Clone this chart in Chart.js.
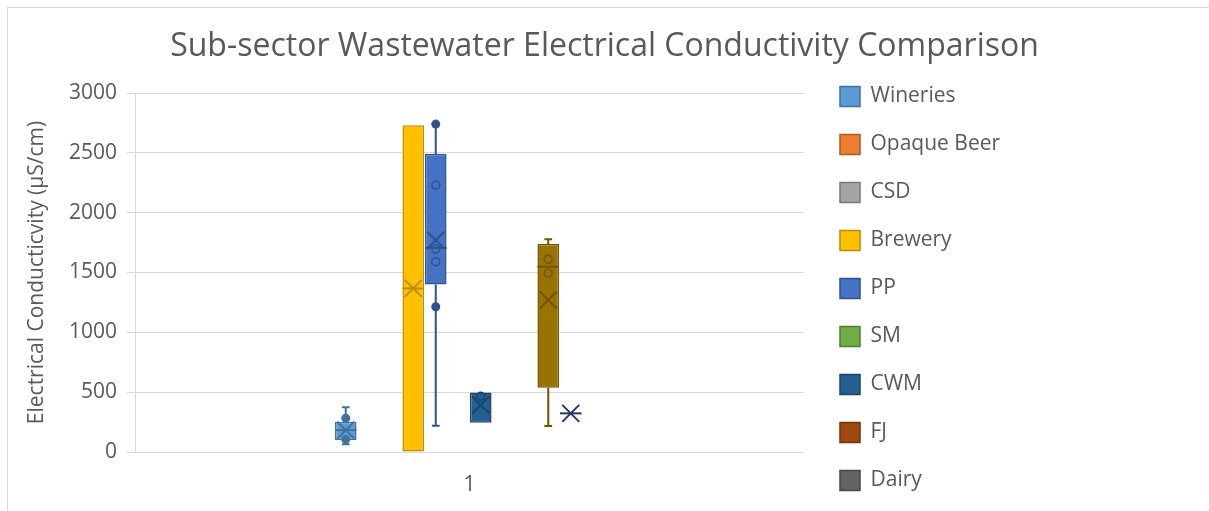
<!DOCTYPE html>
<html>
<head>
<meta charset="utf-8">
<script src="https://cdn.jsdelivr.net/npm/chart.js@4.4.1/dist/chart.umd.min.js"></script>
<style>
html,body{margin:0;padding:0;background:#fff;overflow:hidden;width:1209px;height:511px}
canvas{display:block}
</style>
</head>
<body>
<canvas id="c" width="1209" height="511"></canvas>
<script>
// ---- data ----
const categories = ['1'];
const seriesNames = ['Wineries','Opaque Beer','CSD','Brewery','PP','SM','CWM','FJ','Dairy','Series 10','Series 11','Series 12'];
const legendCount = 9;
const fillColors = ['#5B9BD5','#ED7D31','#A5A5A5','#FFC000','#4472C4','#70AD47','#255E91','#9E480E','#636363','#997300','#264478','#43682B'];
const lineColors = ['#41719C','#AE5A21','#787878','#BC8C00','#2F528F','#507E32','#1A4469','#73330A','#474747','#705400','#203864','#30501F'];
const q1Values  = [100, null, null, 0,    1400, null, 245, null, null, 537,  323, null];
const q3Values  = [250, null, null, 2730, 2490, null, 498, null, null, 1738, 323, null];
const medianValues = [183, null, null, 1367, 1705, null, null, null, null, 1548, 323, null];
const meanValues   = [183, null, null, 1367, 1770, null, 393, null, null, 1270, 323, null];
const whiskerMinValues = [65, null, null, null, 220, null, null, null, null, 217, null, null];
const whiskerMaxValues = [375, null, null, null, 2740, null, null, null, null, 1777, null, null];
const innerPoints   = [[], [], [], [], [2230, 1696, 1590], [], [465], [], [], [1610, 1493], [], []];
const outlierPoints = [[283, 105], [], [], [], [2740, 1214], [], [], [], [], [], [], []];
const yMin = 0, yMax = 3000, yStep = 500;

const TXT = '#595959';
const GRID = '#d9d9d9';
const FAM = "'Open Sans'";
Chart.defaults.font.family = FAM;

const bgPlugin = {
  id: 'bg',
  beforeDraw(chart) {
    const ctx = chart.ctx;
    ctx.save();
    ctx.fillStyle = '#fff';
    ctx.fillRect(0, 0, chart.width, chart.height);
    ctx.strokeStyle = GRID;
    ctx.lineWidth = 1;
    ctx.strokeRect(7.5, 7.5, chart.width + 20, chart.height + 20);
    ctx.restore();
  }
};

const boxDetails = {
  id: 'boxDetails',
  afterDatasetsDraw(chart) {
    const ctx = chart.ctx;
    const ys = chart.scales.y;
    chart.data.datasets.forEach((ds, i) => {
      const bar = chart.getDatasetMeta(i).data[0];
      if (!bar || q1Values[i] == null) return;
      const x = bar.x, w = bar.width, col = lineColors[i];
      const py = v => ys.getPixelForValue(v);
      ctx.save();
      ctx.strokeStyle = col;
      ctx.fillStyle = col;
      ctx.lineWidth = 2;
      const cap = w * 0.18;
      if (whiskerMaxValues[i] != null) {
        ctx.beginPath();
        ctx.moveTo(x, py(q3Values[i])); ctx.lineTo(x, py(whiskerMaxValues[i]));
        ctx.moveTo(x - cap, py(whiskerMaxValues[i])); ctx.lineTo(x + cap, py(whiskerMaxValues[i]));
        ctx.stroke();
      }
      if (whiskerMinValues[i] != null) {
        ctx.beginPath();
        ctx.moveTo(x, py(q1Values[i])); ctx.lineTo(x, py(whiskerMinValues[i]));
        ctx.moveTo(x - cap, py(whiskerMinValues[i])); ctx.lineTo(x + cap, py(whiskerMinValues[i]));
        ctx.stroke();
      }
      if (medianValues[i] != null) {
        ctx.beginPath();
        ctx.moveTo(x - w / 2, py(medianValues[i])); ctx.lineTo(x + w / 2, py(medianValues[i]));
        ctx.stroke();
      }
      if (meanValues[i] != null) {
        const m = py(meanValues[i]), h = 8.5;
        ctx.beginPath();
        ctx.moveTo(x - h, m - h); ctx.lineTo(x + h, m + h);
        ctx.moveTo(x - h, m + h); ctx.lineTo(x + h, m - h);
        ctx.stroke();
      }
      ctx.lineWidth = 1.5;
      innerPoints[i].forEach(v => {
        ctx.beginPath();
        ctx.arc(x, py(v), 4, 0, Math.PI * 2);
        ctx.stroke();
      });
      outlierPoints[i].forEach(v => {
        ctx.beginPath();
        ctx.arc(x, py(v), 4.5, 0, Math.PI * 2);
        ctx.fill();
      });
      ctx.restore();
    });
  }
};

const hiddenScale = (pos, weight, fitFn) => ({
  type: pos === 'top' ? 'category' : 'linear',
  position: pos,
  weight: weight,
  display: true,
  grid: { display: false },
  border: { display: false },
  ticks: { display: false },
  afterFit: fitFn
});

new Chart(document.getElementById('c'), {
  type: 'bar',
  data: {
    labels: categories,
    datasets: seriesNames.map((name, i) => ({
      label: name,
      data: [q1Values[i] == null ? null : [q1Values[i], q3Values[i]]],
      backgroundColor: fillColors[i],
      borderColor: lineColors[i],
      borderWidth: 1.5,
      borderSkipped: false,
      xAxisID: 'x',
      yAxisID: 'y'
    }))
  },
  options: {
    responsive: false,
    animation: false,
    devicePixelRatio: 1,
    layout: { padding: { left: 0, right: 0, top: 0, bottom: -7 } },
    datasets: { bar: { categoryPercentage: 0.4036, barPercentage: 0.96 } },
    scales: {
      x: {
        position: 'bottom',
        grid: { display: false },
        border: { display: false },
        ticks: { color: TXT, font: { family: FAM, size: 21 }, padding: 12 },
        afterFit(s) { s.height = 66; }
      },
      xTop: hiddenScale('top', 0, s => { s.height = 34; }),
      y: {
        position: 'left',
        min: yMin, max: yMax,
        ticks: { stepSize: yStep, color: TXT, font: { family: FAM, size: 21 }, padding: 10, callback: v => String(v) },
        grid: { color: GRID, lineWidth: 1, tickLength: 8 },
        border: { display: true, color: GRID, width: 1 },
        title: { display: true, text: 'Electrical Conducticvity (µS/cm)', color: TXT, font: { family: FAM, size: 21 }, padding: { top: 24, bottom: 0 } },
        afterFit(s) { s.width = 135; }
      },
      gapR: hiddenScale('right', 0, s => { s.width = 9; }),
      padR: hiddenScale('right', 2000, s => {
        const lg = s.chart.legend;
        const lw = lg && lg.width ? lg.width : 200;
        s.width = Math.max(0, s.chart.width - 813 - lw);
      })
    },
    plugins: {
      title: {
        display: true,
        text: 'Sub-sector Wastewater Electrical Conductivity Comparison',
        color: TXT,
        font: { family: FAM, size: 32, weight: 'normal', lineHeight: 0.75 },
        padding: { top: 35, bottom: 0 }
      },
      legend: {
        position: 'right',
        align: 'end',
        maxWidth: 380,
        labels: {
          boxWidth: 20, boxHeight: 20, padding: 27,
          color: TXT,
          font: { family: FAM, size: 21 },
          filter: item => item.datasetIndex < legendCount
        }
      },
      tooltip: { enabled: false }
    }
  },
  plugins: [bgPlugin, boxDetails]
});
</script>
</body>
</html>
